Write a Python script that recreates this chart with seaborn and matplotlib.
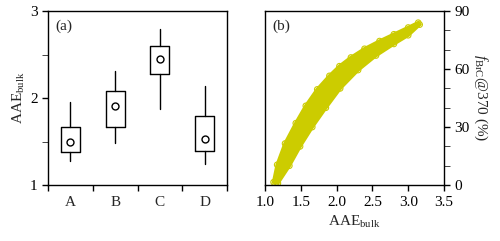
import numpy as np
import pandas as pd
import matplotlib
matplotlib.use('Agg')
import matplotlib.pyplot as plt
from matplotlib.ticker import MultipleLocator
import seaborn as sns

# panel (a): box statistics
groups = ['A', 'B', 'C', 'D']
whis_lo = [1.28, 1.48, 1.88, 1.24]
q1 = [1.375, 1.67, 2.28, 1.39]
centre = [1.50, 1.91, 2.45, 1.53]
q3 = [1.67, 2.08, 2.60, 1.79]
whis_hi = [1.96, 2.31, 2.79, 2.14]

# panel (b): outer edges of the point cloud
upper_x = [1.12, 1.17, 1.28, 1.43, 1.57, 1.73, 1.90, 2.04, 2.20, 2.39, 2.60, 2.80, 3.00, 3.14]
upper_y = [1.5, 10.5, 21.5, 32, 41, 49.5, 56.5, 61.5, 66, 70.5, 74.5, 78, 81.5, 84]
lower_x = [1.18, 1.34, 1.49, 1.66, 1.85, 2.05, 2.30, 2.55, 2.80, 3.00, 3.16]
lower_y = [1, 10, 20, 30, 40, 50, 59.5, 67, 73, 77.5, 83]

YELLOW = '#cccc00'


def main():
    sns.set_style('ticks')
    plt.rcParams['font.family'] = ['Liberation Serif', 'DejaVu Serif']
    plt.rcParams['mathtext.fontset'] = 'custom'
    plt.rcParams['mathtext.rm'] = 'Liberation Serif'
    plt.rcParams['mathtext.it'] = 'Liberation Serif:italic'
    plt.rcParams['font.size'] = 11

    fig = plt.figure(figsize=(5.0, 2.41), dpi=100)
    ax1 = fig.add_axes([0.096, 0.232, 0.358, 0.722])
    ax2 = fig.add_axes([0.530, 0.232, 0.358, 0.722])

    # ---- (a) boxes
    stats = []
    for i, g in enumerate(groups):
        stats.append(dict(label=g, whislo=whis_lo[i], q1=q1[i], med=centre[i],
                          mean=centre[i], q3=q3[i], whishi=whis_hi[i], fliers=[]))
    pos = np.arange(len(groups)) + 0.5
    ax1.bxp(stats, positions=pos, widths=0.42, showcaps=False, showmeans=True,
            boxprops=dict(color='black', linewidth=1.0),
            whiskerprops=dict(color='black', linewidth=1.0),
            medianprops=dict(linewidth=0),
            meanprops=dict(marker='o', markerfacecolor='white',
                           markeredgecolor='black', markersize=5,
                           markeredgewidth=1.0))
    ax1.set_xlim(0, 4)
    ax1.set_ylim(1, 3)
    ax1.set_xticks(range(5))
    ax1.set_xticklabels([])
    ax1.set_xticks(pos, minor=True)
    ax1.set_xticklabels(groups, minor=True)
    ax1.tick_params(axis='x', which='minor', length=0, pad=8)
    ax1.set_yticks([1, 2, 3])
    ax1.yaxis.set_minor_locator(MultipleLocator(0.5))
    ax1.tick_params(axis='y', which='both', length=4)
    ax1.tick_params(axis='x', which='major', length=4)
    ax1.set_ylabel(r'AAE$_{\rm bulk}$', labelpad=2)
    ax1.text(0.04, 0.95, '(a)', transform=ax1.transAxes, va='top', ha='left')

    # ---- (b) scatter band
    ax2.fill(upper_x + lower_x[::-1], upper_y + lower_y[::-1],
             color=YELLOW, linewidth=2.5, edgecolor=YELLOW, zorder=1)
    edges = pd.DataFrame({'x': upper_x + lower_x, 'y': upper_y + lower_y})
    sns.scatterplot(data=edges, x='x', y='y', ax=ax2, marker='o', s=16,
                    facecolors='none', edgecolor=YELLOW, linewidth=0.8,
                    zorder=2)
    ax2.set_xlim(1.0, 3.5)
    ax2.set_ylim(0, 90)
    ax2.set_xticks(np.arange(1.0, 3.51, 0.5))
    ax2.set_xticklabels([f'{v:.1f}' for v in np.arange(1.0, 3.51, 0.5)])
    ax2.set_yticks([0, 30, 60, 90])
    ax2.yaxis.set_minor_locator(MultipleLocator(10))
    ax2.yaxis.tick_right()
    ax2.yaxis.set_label_position('right')
    ax2.tick_params(axis='both', which='both', length=4)
    ax2.set_xlabel(r'AAE$_{\rm bulk}$', labelpad=4)
    ax2.set_ylabel(r'$f_{\rm BrC}$@370 (%)', rotation=270, labelpad=14)
    ax2.text(0.04, 0.95, '(b)', transform=ax2.transAxes, va='top', ha='left')

    for ax in (ax1, ax2):
        for sp in ax.spines.values():
            sp.set_visible(True)
            sp.set_color('black')
            sp.set_linewidth(1.0)
        ax.tick_params(colors='black', width=1.0)

    fig.savefig('out.png', dpi=100)


if __name__ == '__main__':
    main()
